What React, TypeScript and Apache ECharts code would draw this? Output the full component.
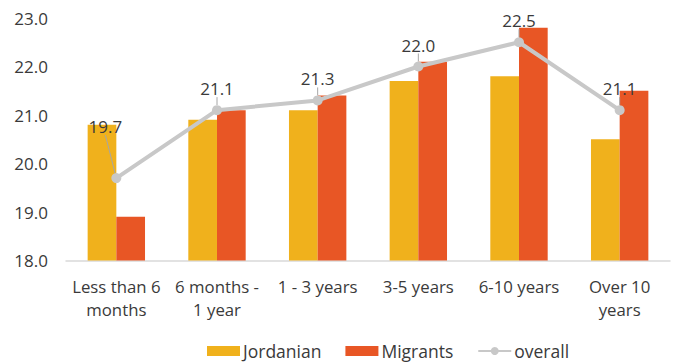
import React, { useEffect, useRef } from "react";
import * as echarts from "echarts";

const categories = [
  "Less than 6\nmonths",
  "6 months -\n1 year",
  "1 - 3 years",
  "3-5 years",
  "6-10 years",
  "Over 10\nyears",
];
const jordanian = [20.8, 20.9, 21.1, 21.7, 21.8, 20.5];
const migrants = [18.9, 21.1, 21.4, 22.1, 22.8, 21.5];
const overall = [19.7, 21.1, 21.3, 22.0, 22.5, 21.1];
const yTicks = { min: 18, max: 23, interval: 1 };

const FONT = "'Open Sans', 'Noto Sans', sans-serif";
const TEXT = "#3a3a3a";

export default function App() {
  const ref = useRef<HTMLDivElement>(null);

  useEffect(() => {
    if (!ref.current) return;
    const chart = echarts.init(ref.current, undefined, { renderer: "svg" });
    chart.setOption({
      animation: false,
      textStyle: { fontFamily: FONT },
      grid: { left: 66, right: 3, top: 18, bottom: 102.5, containLabel: false },
      legend: {
        left: 207,
        top: 342,
        padding: 0,
        itemWidth: 33,
        itemHeight: 10,
        itemGap: 24,
        textStyle: {
          fontFamily: FONT,
          fontSize: 17.5,
          lineHeight: 18,
          color: TEXT,
          padding: [0, 0, 0, -2],
        },
        data: [
          { name: "Jordanian", icon: "rect" },
          { name: "Migrants", icon: "rect" },
          { name: "overall" },
        ],
      },
      xAxis: {
        type: "category",
        data: categories,
        axisTick: { show: false },
        axisLine: { lineStyle: { color: "#d9d9d9", width: 1.5 } },
        axisLabel: {
          fontFamily: FONT,
          fontSize: 16.8,
          color: TEXT,
          margin: 15,
          lineHeight: 22.5,
          interval: 0,
        },
      },
      yAxis: {
        type: "value",
        min: yTicks.min,
        max: yTicks.max,
        interval: yTicks.interval,
        splitLine: { show: false },
        axisLine: { show: false },
        axisTick: { show: false },
        axisLabel: {
          fontFamily: FONT,
          fontSize: 17,
          color: TEXT,
          margin: 18,
          formatter: (v: number) => v.toFixed(1),
        },
      },
      series: [
        {
          name: "Jordanian",
          type: "bar",
          data: jordanian,
          barGap: "0%",
          barCategoryGap: "43%",
          itemStyle: { color: "#F0B11C" },
        },
        {
          name: "Migrants",
          type: "bar",
          data: migrants,
          itemStyle: { color: "#E85625" },
        },
        {
          name: "overall",
          type: "line",
          data: overall,
          symbol: "circle",
          symbolSize: 10,
          z: 5,
          lineStyle: { color: "#c8c8c8", width: 4 },
          itemStyle: { color: "#c8c8c8" },
          label: {
            show: true,
            position: "top",
            distance: 8,
            fontFamily: FONT,
            fontSize: 17,
            color: TEXT,
            formatter: (p: any) => Number(p.value).toFixed(1),
          },
          labelLine: {
            show: true,
            lineStyle: { color: "#a6a6a6", width: 1 },
          },
          labelLayout: (params: any) =>
            params.dataIndex === 0 ? { dx: -11, dy: -30 } : {},
        },
      ],
    });
    return () => chart.dispose();
  }, []);

  return (
    <div
      ref={ref}
      style={{ position: "fixed", left: 0, top: 0, width: 673, height: 363, background: "#fff" }}
    />
  );
}
